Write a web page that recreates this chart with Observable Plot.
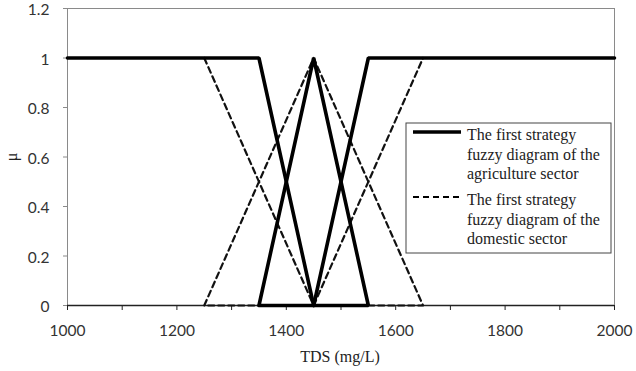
<!DOCTYPE html>
<html>
<head>
<meta charset="utf-8">
<script src="https://cdn.jsdelivr.net/npm/d3@7"></script>
<script src="https://cdn.jsdelivr.net/npm/@observablehq/plot@0.6"></script>
<style>
  html, body { margin: 0; padding: 0; background: #fff; }
  #chart { width: 636px; height: 371px; }
  #chart text.serif { font-family: "Liberation Serif", "Times New Roman", "DejaVu Serif", serif !important; font-size: 16px; fill: #222; }
</style>
</head>
<body>
<div id="chart"></div>
<script>
// Membership functions (TDS in mg/L, membership μ), one polyline per part
const agriX    = [1000, 1350, 1450,   1350, 1450, 1550, 1350,   1450, 1550, 2000];
const agriY    = [1, 1, 0,            0, 1, 0, 0,               0, 1, 1];
const agriPart = ["low", "low", "low", "mid", "mid", "mid", "mid", "high", "high", "high"];

const domX    = [1250, 1450,   1250, 1450, 1650, 1250,   1450, 1650];
const domY    = [1, 0,         0, 1, 0, 0,               0, 1];
const domPart = ["low", "low", "mid", "mid", "mid", "mid", "high", "high"];

const xMinorTicks = d3.range(1000, 2001, 100);
const xLabelTicks = [1000, 1200, 1400, 1600, 1800, 2000];
const yTicks = [0, 0.2, 0.4, 0.6, 0.8, 1, 1.2];

const legendLabels = [
  ["The first strategy", "fuzzy diagram of the", "agriculture sector"],
  ["The first strategy", "fuzzy diagram of the", "domestic sector"]
];

const agri = agriX.map((x, i) => ({x, y: agriY[i], part: agriPart[i]}));
const dom = domX.map((x, i) => ({x, y: domY[i], part: domPart[i]}));

const tickFont = "Lato, 'Open Sans', sans-serif";

const chart = Plot.plot({
  width: 636,
  height: 371,
  marginLeft: 67,
  marginRight: 22,
  marginTop: 8,
  marginBottom: 66,
  style: {fontFamily: tickFont, fontSize: "15.5px", color: "#333", background: "#fff"},
  x: {domain: [1000, 2000]},
  y: {domain: [0, 1.2]},
  marks: [
    Plot.frame({stroke: "#8a8a8a", strokeWidth: 1}),
    // tick marks
    Plot.axisX({ticks: xMinorTicks, tickSize: 5, tickFormat: () => "", label: null, stroke: "#222"}),
    Plot.axisY({ticks: yTicks, tickSize: 4, tickFormat: () => "", label: null, stroke: "#8a8a8a"}),
    // tick labels
    Plot.axisX({ticks: xLabelTicks, tickSize: 0, tickPadding: 19, tickFormat: d => String(d), label: null, fill: "#333"}),
    Plot.axisY({ticks: yTicks, tickSize: 0, tickPadding: 18, dy: 2, tickFormat: d => String(+d.toFixed(1)), label: null, fill: "#333"}),
    Plot.ruleY([0], {stroke: "#222", strokeWidth: 1.5}),
    Plot.line(dom, {x: "x", y: "y", z: "part", stroke: "#111", strokeWidth: 2.2, strokeDasharray: "6,4"}),
    Plot.line(agri, {x: "x", y: "y", z: "part", stroke: "#000", strokeWidth: 3.6, strokeLinejoin: "miter"})
  ]
});

document.getElementById("chart").appendChild(chart);

// Axis titles and legend box, placed in the chart's pixel space
const svg = d3.select(chart);
svg.append("text").attr("class", "serif")
  .attr("x", 340).attr("y", 362)
  .attr("text-anchor", "middle")
  .text("TDS (mg/L)");
svg.append("text").attr("class", "serif")
  .attr("transform", "translate(17,157) rotate(-90)")
  .attr("text-anchor", "middle")
  .text("μ");

const lg = svg.append("g");
lg.append("rect")
  .attr("x", 406).attr("y", 123).attr("width", 205).attr("height", 130)
  .attr("fill", "#fff").attr("stroke", "#444").attr("stroke-width", 1);
const styles = [
  {width: 3.6, dash: null},
  {width: 2.2, dash: "6,4"}
];
const blockTop = [140, 205];
legendLabels.forEach((lines, k) => {
  lg.append("line")
    .attr("x1", 413).attr("x2", 461)
    .attr("y1", blockTop[k] - 8).attr("y2", blockTop[k] - 8)
    .attr("stroke", "#000").attr("stroke-width", styles[k].width)
    .attr("stroke-dasharray", styles[k].dash);
  lines.forEach((t, j) => {
    lg.append("text").attr("class", "serif")
      .attr("x", 467).attr("y", blockTop[k] + j * 19.5)
      .attr("text-anchor", "start")
      .text(t);
  });
});
</script>
</body>
</html>
